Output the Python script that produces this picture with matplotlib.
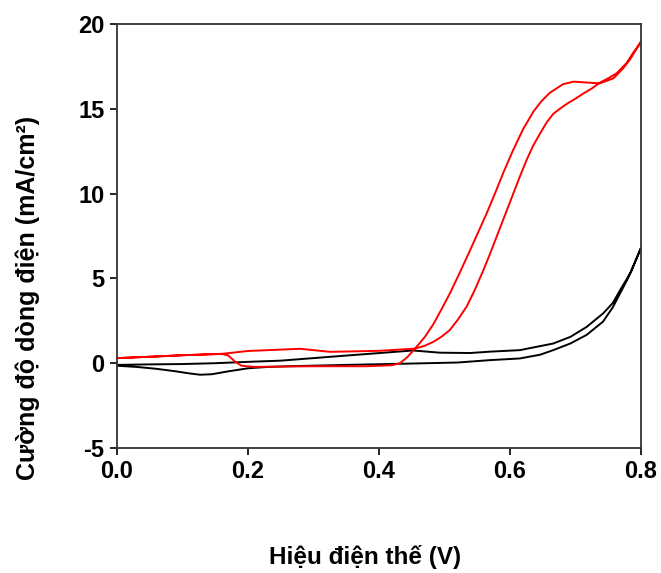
import numpy as np
import matplotlib.pyplot as plt

plt.rcParams['font.family'] = ['Liberation Sans', 'DejaVu Sans']
plt.rcParams['font.weight'] = 'bold'

# black loop (blank electrode): lower branch out, upper branch back
blank_x = [0.0, 0.03, 0.06, 0.09, 0.11, 0.127, 0.145, 0.17, 0.2, 0.23, 0.26, 0.35,
           0.45, 0.52, 0.569, 0.615, 0.646, 0.666, 0.692, 0.717, 0.742, 0.757,
           0.78, 0.8,
           0.785, 0.768, 0.757, 0.742, 0.717, 0.692, 0.666, 0.615, 0.569, 0.539,
           0.493, 0.452, 0.35, 0.25, 0.2, 0.15, 0.1, 0.05, 0.0]
blank_y = [-0.15, -0.22, -0.33, -0.48, -0.6, -0.68, -0.65, -0.48, -0.3, -0.22, -0.18, -0.1,
           -0.02, 0.04, 0.18, 0.28, 0.5, 0.77, 1.16, 1.67, 2.45, 3.3,
           5.0, 6.8,
           5.4, 4.3, 3.55, 2.93, 2.14, 1.55, 1.16, 0.77, 0.68, 0.6,
           0.62, 0.75, 0.45, 0.15, 0.08, 0.0, -0.05, -0.07, -0.1]

# red loop (catalyst): out along the bottom, up the steep branch, back down the right one
cat_x = [0.0, 0.05, 0.1, 0.16, 0.17, 0.18, 0.19, 0.21, 0.25, 0.3, 0.38, 0.42, 0.432,
         0.443, 0.455, 0.47, 0.483, 0.495, 0.508, 0.521, 0.536, 0.55, 0.564, 0.577,
         0.59, 0.604, 0.62, 0.636, 0.648, 0.661, 0.681, 0.697, 0.717, 0.737, 0.758,
         0.773, 0.783, 0.8,
         0.788, 0.778, 0.763, 0.75, 0.737, 0.725, 0.712, 0.7, 0.687, 0.676, 0.666,
         0.656, 0.646, 0.635, 0.625, 0.615, 0.606, 0.6, 0.59, 0.58, 0.57, 0.559,
         0.546, 0.534, 0.521, 0.508, 0.495, 0.483, 0.47, 0.455, 0.4, 0.325, 0.28,
         0.2, 0.16, 0.1, 0.05, 0.0]
cat_y = [0.3, 0.38, 0.47, 0.55, 0.45, 0.1, -0.15, -0.22, -0.2, -0.18, -0.18, -0.12, 0.0,
         0.35, 0.86, 1.55, 2.3, 3.15, 4.1, 5.15, 6.4, 7.6, 8.8, 10.0,
         11.25, 12.5, 13.8, 14.85, 15.45, 15.95, 16.45, 16.6, 16.55, 16.5, 16.8,
         17.4, 17.9, 18.95,
         18.3, 17.7, 17.1, 16.8, 16.54, 16.2, 15.9, 15.6, 15.3, 15.0, 14.7,
         14.2, 13.55, 12.8, 11.95, 11.0, 10.1, 9.5, 8.5, 7.5, 6.5, 5.45,
         4.3, 3.35, 2.6, 1.95, 1.55, 1.26, 1.03, 0.86, 0.73, 0.67, 0.85,
         0.72, 0.55, 0.47, 0.38, 0.3]

x_ticks = [0.0, 0.2, 0.4, 0.6, 0.8]
y_ticks = [-5, 0, 5, 10, 15, 20]

fig = plt.figure(figsize=(6.61, 5.73), dpi=100)
ax = fig.add_axes([117 / 661, 1 - 448 / 573, 524 / 661, 424 / 573])

ax.plot(blank_x, blank_y, color='black', lw=1.4)
ax.plot(cat_x, cat_y, color='#ff0000', lw=1.4)

ax.set_xlim(0, 0.8)
ax.set_ylim(-5, 20)
ax.set_xticks(x_ticks)
ax.set_yticks(y_ticks)
ax.set_xticklabels([f'{v:.1f}' for v in x_ticks])
ax.set_yticklabels([str(v) for v in y_ticks])
ax.tick_params(direction='out', length=5, width=1.2, labelsize=17, pad=4,
               top=False, right=False)
for lab in ax.get_xticklabels() + ax.get_yticklabels():
    lab.set_fontweight('bold')
for s in ax.spines.values():
    s.set_linewidth(1.3)
    s.set_color('#333333')

fig.text(365 / 661, 1 - 557 / 573, 'Hiệu điện thế (V)', ha='center', va='center',
         fontsize=17.5, fontweight='bold')
fig.text(28 / 661, 1 - 298 / 573, 'Cường độ dòng điện (mA/cm²)', ha='center',
         va='center', rotation=90, fontsize=18, fontweight='bold')

fig.savefig('out.png', dpi=100)
